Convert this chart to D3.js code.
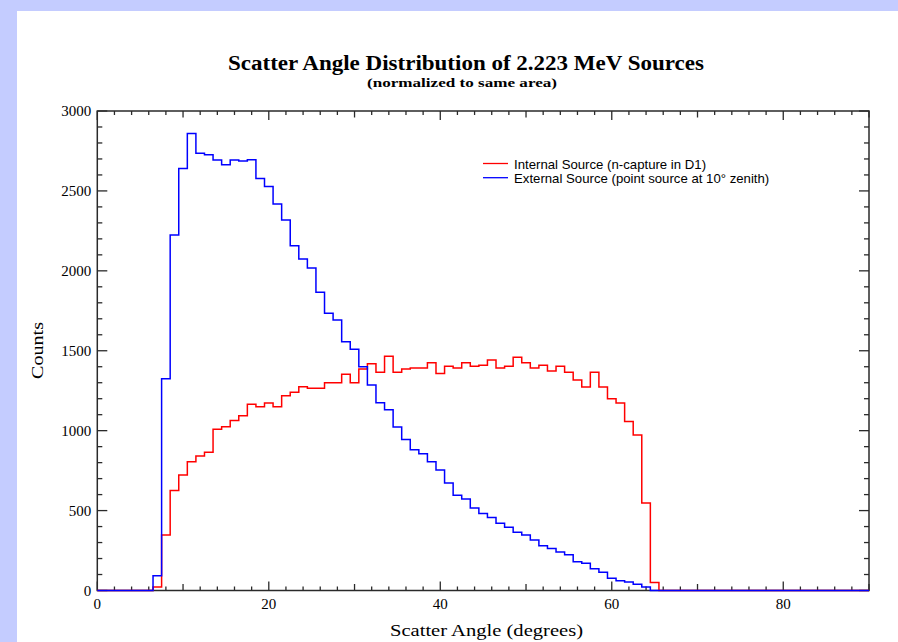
<!DOCTYPE html>
<html lang="en">
  <head>
    <meta charset="UTF-8" />
    <title>Scatter Angle Distribution of 2.223 MeV Sources</title>
    <script src="https://d3js.org/d3.v7.min.js"></script>
    <style>
      html,
      body {
        margin: 0;
        padding: 0;
        background-color: #c4ccff;
      }
    </style>
  </head>
  <body>
    <div id="viz"></div>
    <script>
      // bin centres in degrees (1 degree wide bins)
      const angles = d3.range(0, 91);

      // internal source (n-capture in D1), counts per bin 0..90
      const internalCounts = [
        0, 0, 0, 0, 0, 0, 0, 22, 347, 625,
        723, 806, 841, 865, 1009, 1025, 1063, 1094, 1165, 1150,
        1173, 1150, 1219, 1240, 1275, 1265, 1265, 1300, 1300, 1353,
        1300, 1386, 1419, 1365, 1465, 1365, 1386, 1392, 1392, 1425,
        1357, 1403, 1392, 1425, 1403, 1409, 1442, 1392, 1403, 1459,
        1425, 1392, 1409, 1373, 1403, 1365, 1317, 1273, 1365, 1273,
        1200, 1173, 1057, 973, 548, 50, 0, 0, 0, 0,
        0, 0, 0, 0, 0, 0, 0, 0, 0, 0,
        0, 0, 0, 0, 0, 0, 0, 0, 0, 0,
        0
      ];

      // external source (point source at 10 deg zenith), counts per bin 0..90
      const externalCounts = [
        0, 0, 0, 0, 0, 0, 0, 93, 1325, 2224,
        2641, 2860, 2735, 2727, 2693, 2664, 2693, 2687, 2695, 2577,
        2527, 2418, 2318, 2157, 2074, 2018, 1866, 1734, 1692, 1557,
        1509, 1400, 1286, 1175, 1131, 1023, 944, 881, 856, 806,
        754, 673, 596, 572, 516, 481, 456, 420, 395, 364,
        347, 316, 280, 262, 241, 224, 180, 170, 136, 114,
        76, 61, 53, 39, 22, 0, 0, 0, 0, 0,
        0, 0, 0, 0, 0, 0, 0, 0, 0, 0,
        0, 0, 0, 0, 0, 0, 0, 0, 0, 0,
        0
      ];

      const xTicks = [0, 20, 40, 60, 80];
      const yTicks = [0, 500, 1000, 1500, 2000, 2500, 3000];

      const series = [
        { name: "Internal Source (n-capture in D1)", values: internalCounts, color: "#ff0000" },
        { name: "External Source (point source at 10\u00b0 zenith)", values: externalCounts, color: "#0000ff" }
      ];

      const W = 898, H = 642;
      const margin = { top: 111, right: 29, bottom: 51.5, left: 97.3 };
      const width = W - margin.left - margin.right;
      const height = H - margin.top - margin.bottom;

      const svg = d3
        .select("#viz")
        .append("svg")
        .attr("width", W)
        .attr("height", H)
        .style("display", "block");

      // white panel
      svg.append("rect").attr("x", 17).attr("y", 11).attr("width", W - 17).attr("height", H - 11).attr("fill", "#ffffff");

      const serif = "'Liberation Serif', 'Times New Roman', serif";

      svg.append("text")
        .attr("x", 228).attr("y", 70)
        .attr("textLength", 476).attr("lengthAdjust", "spacingAndGlyphs")
        .style("font-family", serif).style("font-weight", "bold").style("font-size", "20px")
        .text("Scatter Angle Distribution of 2.223 MeV Sources");

      svg.append("text")
        .attr("x", 367).attr("y", 86.5)
        .attr("textLength", 190).attr("lengthAdjust", "spacingAndGlyphs")
        .style("font-family", serif).style("font-weight", "bold").style("font-size", "13.5px")
        .text("(normalized to same area)");

      const g = svg.append("g").attr("transform", `translate(${margin.left},${margin.top})`);

      const x = d3.scaleLinear().domain([0, 90]).range([0, width]);
      const y = d3.scaleLinear().domain([0, 3000]).range([height, 0]);

      const axisColor = "#2a2a2a";

      // frame
      g.append("rect")
        .attr("width", width).attr("height", height)
        .attr("fill", "none").attr("stroke", axisColor).attr("stroke-width", 1.5);

      // x ticks: minor every 2, medium every 10, major every 20 (inward, top and bottom)
      const xt = d3.range(0, 91, 2);
      const xLen = (v) => (v % 20 === 0 ? 9 : v % 10 === 0 ? 6.5 : 4);
      xt.forEach((v) => {
        g.append("line").attr("x1", x(v)).attr("x2", x(v)).attr("y1", height).attr("y2", height - xLen(v))
          .attr("stroke", axisColor).attr("stroke-width", 1.3);
        g.append("line").attr("x1", x(v)).attr("x2", x(v)).attr("y1", 0).attr("y2", xLen(v))
          .attr("stroke", axisColor).attr("stroke-width", 1.3);
      });

      // y ticks: minor every 100, major every 500 (inward, left and right)
      const yt = d3.range(0, 3001, 100);
      const yLen = (v) => (v % 500 === 0 ? 10 : 5);
      yt.forEach((v) => {
        g.append("line").attr("x1", 0).attr("x2", yLen(v)).attr("y1", y(v)).attr("y2", y(v))
          .attr("stroke", axisColor).attr("stroke-width", 1.3);
        g.append("line").attr("x1", width).attr("x2", width - yLen(v)).attr("y1", y(v)).attr("y2", y(v))
          .attr("stroke", axisColor).attr("stroke-width", 1.3);
      });

      g.selectAll("text.xt")
        .data(xTicks)
        .join("text")
        .attr("class", "xt")
        .attr("x", (d) => x(d)).attr("y", height + 18)
        .attr("text-anchor", "middle")
        .style("font-family", serif).style("font-size", "15px")
        .text((d) => d);

      g.selectAll("text.yt")
        .data(yTicks)
        .join("text")
        .attr("class", "yt")
        .attr("x", -6).attr("y", (d) => y(d) + 5)
        .attr("text-anchor", "end")
        .style("font-family", serif).style("font-size", "15px")
        .text((d) => d);

      svg.append("text")
        .attr("x", 390).attr("y", 636)
        .attr("textLength", 193).attr("lengthAdjust", "spacingAndGlyphs")
        .style("font-family", serif).style("font-size", "17px")
        .text("Scatter Angle (degrees)");

      svg.append("text")
        .attr("transform", "translate(43,322) rotate(-90)")
        .attr("text-anchor", "end")
        .attr("textLength", 57).attr("lengthAdjust", "spacingAndGlyphs")
        .attr("x", 0)
        .style("font-family", serif).style("font-size", "17.5px")
        .text("Counts");

      // histogram step lines
      g.append("clipPath").attr("id", "plotClip")
        .append("rect").attr("x", 0).attr("y", -20).attr("width", width).attr("height", height + 40);

      const step = d3.line()
        .x((d) => x(d[0]))
        .y((d) => y(d[1]))
        .curve(d3.curveStepAfter);

      series.forEach((s) => {
        const pts = angles.map((a, i) => [a - 0.5, s.values[i]]);
        pts.push([angles[angles.length - 1] + 0.5, s.values[s.values.length - 1]]);
        g.append("path")
          .attr("d", step(pts))
          .attr("clip-path", "url(#plotClip)")
          .attr("fill", "none")
          .attr("stroke", s.color)
          .attr("stroke-width", 1.5);
      });

      // legend
      const legend = svg.append("g").attr("transform", "translate(483,163.5)");
      series.forEach((s, i) => {
        legend.append("line").attr("x1", 0).attr("x2", 25).attr("y1", i * 14.2).attr("y2", i * 14.2)
          .attr("stroke", s.color).attr("stroke-width", 1.3);
        legend.append("text")
          .attr("x", 31).attr("y", i * 14.2 + 5)
          .style("font-family", "'Liberation Sans', Arial, sans-serif").style("font-size", "13.2px")
          .text(s.name);
      });
    </script>
  </body>
</html>
